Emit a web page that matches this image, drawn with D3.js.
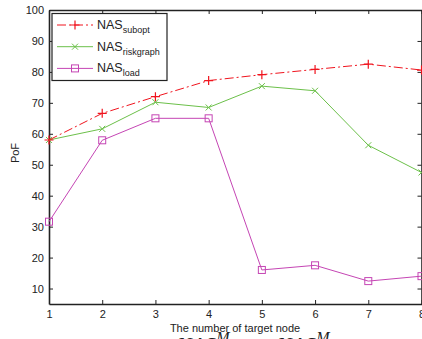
<!DOCTYPE html>
<meta charset="utf-8">
<style>
body { margin: 0; background: #fff; }
text { font-family: "Liberation Sans", Arial, sans-serif; fill: #222; }
.axis path, .axis line { stroke: #222; }
.axis text { font-size: 11px; }
</style>
<body><svg width="422" height="339"></svg></body>
<script src="https://d3js.org/d3.v7.min.js"></script>
<script>

var nodes = [1, 2, 3, 4, 5, 6, 7, 8];
var subopt = [58, 66.6, 72, 77.2, 79.1, 80.8, 82.5, 80.6];
var riskgraph = [58, 61.6, 70.2, 68.5, 75.4, 73.9, 56.3, 47.5];
var load = [31.6, 57.9, 65, 65, 16, 17.5, 12.4, 14];
var yTicks = [10, 20, 30, 40, 50, 60, 70, 80, 90, 100];

var svg = d3.select("svg"),
    pLeft = 49, pRight = 421.5, pTop = 10, pBottom = 304;

var x = d3.scaleLinear().domain([1, 8]).range([pLeft, pRight]);
var y = d3.scaleLinear().domain([5, 100]).range([pBottom, pTop]);

// axes with inward ticks
svg.append("g").attr("class", "axis")
    .attr("transform", "translate(0," + pBottom + ")")
    .call(d3.axisBottom(x).tickValues(nodes).tickSizeInner(-4).tickSizeOuter(0).tickPadding(6).tickFormat(d3.format("d")));
svg.append("g").attr("class", "axis")
    .attr("transform", "translate(0," + pTop + ")")
    .call(d3.axisTop(x).tickValues(nodes).tickSizeInner(-4).tickSizeOuter(0).tickFormat(""));
svg.append("g").attr("class", "axis")
    .attr("transform", "translate(" + pLeft + ",0)")
    .call(d3.axisLeft(y).tickValues(yTicks).tickSizeInner(-4).tickSizeOuter(0).tickPadding(5));
svg.append("g").attr("class", "axis")
    .attr("transform", "translate(" + pRight + ",0)")
    .call(d3.axisRight(y).tickValues(yTicks).tickSizeInner(-4).tickSizeOuter(0).tickFormat(""));
svg.selectAll(".axis path").attr("stroke-width", 1.6);
svg.selectAll(".axis text").attr("fill", "#222");

var series = [
  {name: "subopt", values: subopt, color: "#f0141e", dash: "9,3,2,3", marker: "plus"},
  {name: "riskgraph", values: riskgraph, color: "#6cc04a", dash: null, marker: "cross"},
  {name: "load", values: load, color: "#c545b4", dash: null, marker: "square"}
];

var line = d3.line().x(function(d, i) { return x(nodes[i]); }).y(function(d) { return y(d); });

function marker(g, type, color) {
  if (type == "plus") {
    g.append("path").attr("d", "M-4.5,0H4.5M0,-4.5V4.5").attr("stroke", color).attr("stroke-width", 1.2);
  } else if (type == "cross") {
    g.append("path").attr("d", "M-3,-3L3,3M-3,3L3,-3").attr("stroke", color).attr("stroke-width", 1);
  } else {
    g.append("rect").attr("x", -3.5).attr("y", -3.5).attr("width", 7).attr("height", 7)
      .attr("fill", "none").attr("stroke", color).attr("stroke-width", 1);
  }
}

var plot = svg.append("g");
series.slice().reverse().forEach(function(s) {
  plot.append("path").datum(s.values)
      .attr("d", line)
      .attr("fill", "none")
      .attr("stroke", s.color)
      .attr("stroke-width", 1)
      .attr("stroke-dasharray", s.dash);
  s.values.forEach(function(v, i) {
    marker(plot.append("g").attr("transform", "translate(" + x(nodes[i]) + "," + y(v) + ")"), s.marker, s.color);
  });
});

// legend
var legend = svg.append("g");
legend.append("rect").attr("x", 52).attr("y", 13.5).attr("width", 115).attr("height", 67)
    .attr("fill", "#fff").attr("stroke", "#222").attr("stroke-width", 1.2);
series.forEach(function(s, i) {
  var ly = 25 + i * 21.7;
  legend.append("line").attr("x1", 57).attr("x2", 93).attr("y1", ly).attr("y2", ly)
      .attr("stroke", s.color).attr("stroke-width", 1).attr("stroke-dasharray", s.dash);
  marker(legend.append("g").attr("transform", "translate(75," + ly + ")"), s.marker, s.color);
  var t = legend.append("text").attr("x", 97).attr("y", ly + 4).style("font-size", "12.5px");
  t.append("tspan").text("NAS");
  t.append("tspan").attr("dy", 4).style("font-size", "9px").text(s.name);
});

// axis labels
svg.append("text").attr("transform", "translate(19,153) rotate(-90)")
    .attr("text-anchor", "middle").style("font-size", "11px").text("PoF");
svg.append("text").attr("x", 235).attr("y", 332)
    .attr("text-anchor", "middle").style("font-size", "11px").text("The number of target node");

// caption cut off at the bottom edge
var cap = svg.append("g").style("font-style", "italic");
[177, 277].forEach(function(cx) {
  var t = cap.append("text").attr("x", cx).attr("y", 352).style("font-size", "22px").style("font-family", "'Liberation Serif', serif");
  t.append("tspan").text("NAS");
  t.append("tspan").attr("dy", -9).style("font-size", "16px").text("M");
});

</script>
